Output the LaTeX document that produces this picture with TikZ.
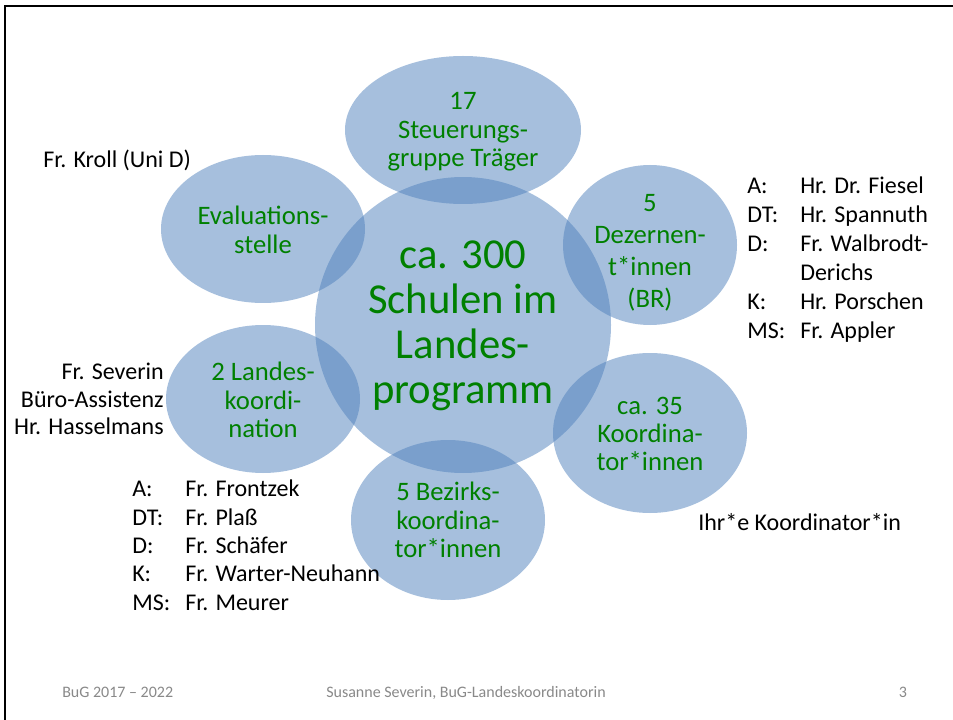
\documentclass[tikz,border=0pt]{standalone}
\usepackage{fontspec}
\setmainfont{Carlito}
\usetikzlibrary{shapes.geometric}
\definecolor{blobblue}{RGB}{79,129,189}
\definecolor{txtgreen}{RGB}{0,128,0}
\definecolor{footgray}{RGB}{137,137,137}
\begin{document}
\begin{tikzpicture}[x=0.75pt,y=-0.75pt,
  blob/.style={ellipse, fill=blobblue, fill opacity=0.5, draw=none, inner sep=0pt, outer sep=0pt},
  gtxt/.style={text=txtgreen, align=center, font=\fontsize{20}{21.3}\selectfont, inner sep=0pt},
  bigtxt/.style={text=txtgreen, align=center, font=\fontsize{32}{33.75}\selectfont, inner sep=0pt},
  btxt/.style={text=black, font=\fontsize{18}{21.75}\selectfont, inner sep=0pt},
  foot/.style={text=footgray, font=\fontsize{12}{14}\selectfont, inner sep=0pt}]
\useasboundingbox (0,0) rectangle (953,720);
\fill[white] (0,0) rectangle (953,720);
\draw[line width=1.7pt] (5,725) -- (5,6) -- (958,6);

% ellipses
\node[blob, minimum width=222pt, minimum height=222pt] (main) at (463,325) {};
\node[blob, minimum width=177pt, minimum height=111pt] (top) at (463,130) {};
\node[blob, minimum width=153pt, minimum height=111pt] (eval) at (263,229) {};
\node[blob, minimum width=130.5pt, minimum height=120pt] (dez) at (650,245) {};
\node[blob, minimum width=145.5pt, minimum height=120pt] (koord) at (650,433) {};
\node[blob, minimum width=145.5pt, minimum height=120pt] (bez) at (448,520) {};
\node[blob, minimum width=145.5pt, minimum height=111pt] (landes) at (263,399) {};

% ellipse texts
\node[bigtxt] (maint) at (463,326) {ca. 300\\Schulen im\\Landes-\\programm};
\node[gtxt] (topt) at (463,132) {17\\Steuerungs-\\gruppe Träger};
\node[gtxt] (evalt) at (263,230) {Evaluations-\\stelle};
\node[gtxt, font=\fontsize{20}{24}\selectfont] (dezt) at (650,253) {5\\Dezernen-\\t*innen\\(BR)};
\node[gtxt] (koordt) at (650,434) {ca. 35\\Koordina-\\tor*innen};
\node[gtxt] (bezt) at (448,520) {5 Bezirks-\\koordina-\\tor*innen};
\node[gtxt] (landest) at (263,400) {2 Landes-\\koordi-\\nation};

% black side texts
\node[btxt, anchor=west] (kroll) at (43,160) {Fr. Kroll (Uni D)};
\node[btxt, align=right, anchor=east, font=\fontsize{18}{20.75}\selectfont] (lk) at (164,399) {Fr. Severin\\Büro-Assistenz\\Hr. Hasselmans};
\node[btxt, align=left, anchor=north west] (dezlist) at (747,177) {%
\makebox[39.75pt][l]{A:}Hr. Dr. Fiesel\\
\makebox[39.75pt][l]{DT:}Hr. Spannuth\\
\makebox[39.75pt][l]{D:}Fr. Walbrodt-\\
\makebox[39.75pt][l]{}Derichs\\
\makebox[39.75pt][l]{K:}Hr. Porschen\\
\makebox[39.75pt][l]{MS:}Fr. Appler};
\node[btxt, align=left, anchor=north west, font=\fontsize{18}{21.2}\selectfont] (bezlist) at (132,480) {%
\makebox[39.75pt][l]{A:}Fr. Frontzek\\
\makebox[39.75pt][l]{DT:}Fr. Plaß\\
\makebox[39.75pt][l]{D:}Fr. Schäfer\\
\makebox[39.75pt][l]{K:}Fr. Warter-Neuhann\\
\makebox[39.75pt][l]{MS:}Fr. Meurer};
\node[btxt, anchor=west] (ihr) at (698,522) {Ihr*e Koordinator*in};

% footer
\node[foot, anchor=base west] (f1) at (62,697) {BuG 2017 – 2022};
\node[foot, anchor=base] (f2) at (466,697) {Susanne Severin, BuG-Landeskoordinatorin};
\node[foot, anchor=base] (f3) at (903,697) {3};
\end{tikzpicture}
\end{document}
